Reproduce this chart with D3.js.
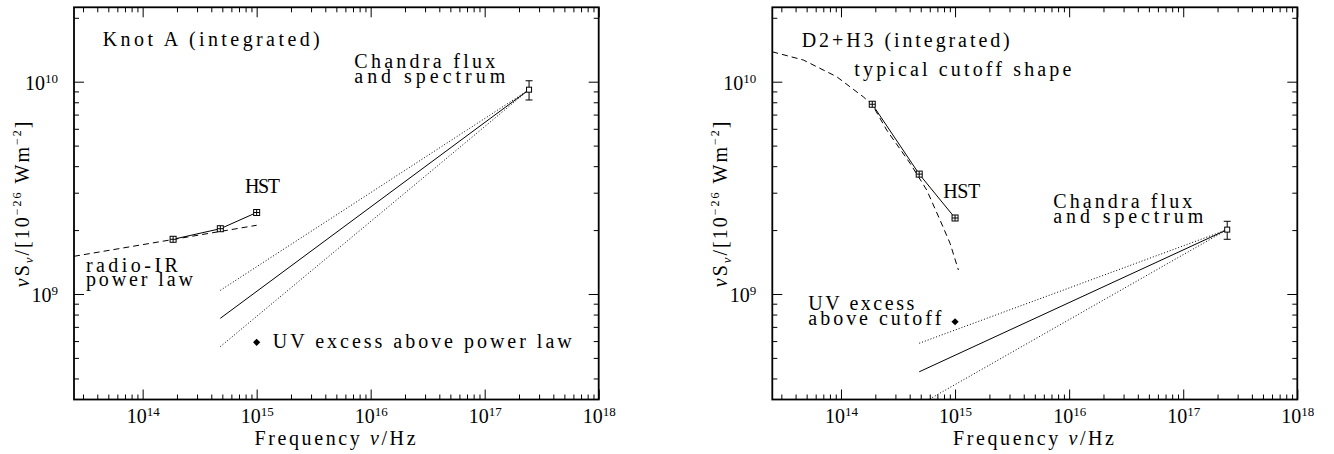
<!DOCTYPE html>
<html><head><meta charset="utf-8">
<script src="https://cdn.jsdelivr.net/npm/d3@7"></script>
<style>
body{margin:0;background:#fff;}
svg{display:block;font-family:"Liberation Serif","Times New Roman",serif;}
</style></head><body>
<svg id="chart" width="1334" height="454"></svg>
<script>
// ---------------- shared axis data ----------------
const xDomain = [2.5e13, 1e18];
const yDomain = [3.184e8, 2.241e10];
const xMajorExponents = [14, 15, 16, 17, 18];
const yMajorExponents = [9, 10];
const minorMultipliers = [2, 3, 4, 5, 6, 7, 8, 9];
const xLabelText = "Frequency ";
const yLabelParts = ["ν", "S", "ν", "/[10", "−26", " Wm", "−2", "]"];

// ---------------- Knot A (left panel) ----------------
const knotA_hstFreq = [1.85e14, 4.8e14, 1.0e15];
const knotA_hstFlux = [1.81e9, 2.03e9, 2.42e9];
const knotA_curveFreq = [2.5e13, 1.0e15];          // radio-IR power law
const knotA_curveFlux = [1.505e9, 2.107e9];
const knotA_chandraFreq = [2.45e17];
const knotA_chandraFlux = [9.17e9];
const knotA_chandraLow = [8.2e9];
const knotA_chandraHigh = [1.01e10];
const knotA_specFreq = [4.8e14, 2.45e17];
const knotA_specBest = [7.68e8, 9.17e9];
const knotA_specUpper = [1.04e9, 9.17e9];
const knotA_specLower = [5.65e8, 9.17e9];
const knotA_uvFreq = [1.0e15];
const knotA_uvFlux = [5.92e8];
const knotA_labels = [["Knot A (integrated)"], ["HST"], ["radio-IR", "power law"], ["Chandra flux", "and spectrum"], ["UV excess above power law"]];
const knotA_labelFreq = [4.47e13, 7.91e14, 3.18e13, 7.18e15, 1.383e15];
const knotA_labelFlux = [1.472e10, 3.0e9, 1.274e9, 1.156e10, 5.57e8];
const knotA_labelWidth = [[217], [35], [92, 107], [141, 151], [299]];

// ---------------- D2+H3 (right panel) ----------------
const d2h3_hstFreq = [1.88e14, 4.85e14, 1.0e15];
const d2h3_hstFlux = [7.83e9, 3.67e9, 2.28e9];
const d2h3_curveFreq = [2.5e13, 4.68e13, 9.16e13, 1.567e14, 1.88e14, 2.515e14, 4.03e14, 5.64e14, 7.38e14, 9.04e14, 1.07e15];   // typical cutoff shape
const d2h3_curveFlux = [1.383e10, 1.265e10, 1.056e10, 8.49e9, 7.8e9, 5.92e9, 4.13e9, 3.09e9, 2.232e9, 1.733e9, 1.297e9];
const d2h3_chandraFreq = [2.43e17];
const d2h3_chandraFlux = [2.01e9];
const d2h3_chandraLow = [1.81e9];
const d2h3_chandraHigh = [2.2e9];
const d2h3_specFreq = [4.85e14, 2.43e17];
const d2h3_specBest = [4.3e8, 2.01e9];
const d2h3_specUpper = [5.86e8, 2.01e9];
const d2h3_specLower = [3.0e8, 2.01e9];
const d2h3_uvFreq = [1.0e15];
const d2h3_uvFlux = [7.4e8];
const d2h3_labels = [["D2+H3 (integrated)"], ["typical cutoff shape"], ["HST"], ["UV excess", "above cutoff"], ["Chandra flux", "and spectrum"]];
const d2h3_labelFreq = [4.53e13, 1.309e14, 7.89e14, 5.17e13, 7.26e15];
const d2h3_labelFlux = [1.457e10, 1.064e10, 2.825e9, 8.41e8, 2.532e9];
const d2h3_labelWidth = [[208], [217], [37], [106, 133], [139, 150]];

// ---------------- layout ----------------
const panels = [
  { id: "A", left: 74, right: 598.7, top: 7.3, bottom: 399.5,
    hstFreq: knotA_hstFreq, hstFlux: knotA_hstFlux, curveFreq: knotA_curveFreq, curveFlux: knotA_curveFlux,
    chFreq: knotA_chandraFreq, chFlux: knotA_chandraFlux, chLow: knotA_chandraLow, chHigh: knotA_chandraHigh,
    specFreq: knotA_specFreq, specBest: knotA_specBest, specUpper: knotA_specUpper, specLower: knotA_specLower,
    uvFreq: knotA_uvFreq, uvFlux: knotA_uvFlux,
    labels: knotA_labels, labelFreq: knotA_labelFreq, labelFlux: knotA_labelFlux, labelWidth: knotA_labelWidth },
  { id: "B", left: 772.3, right: 1297.3, top: 7.3, bottom: 399.5,
    hstFreq: d2h3_hstFreq, hstFlux: d2h3_hstFlux, curveFreq: d2h3_curveFreq, curveFlux: d2h3_curveFlux,
    chFreq: d2h3_chandraFreq, chFlux: d2h3_chandraFlux, chLow: d2h3_chandraLow, chHigh: d2h3_chandraHigh,
    specFreq: d2h3_specFreq, specBest: d2h3_specBest, specUpper: d2h3_specUpper, specLower: d2h3_specLower,
    uvFreq: d2h3_uvFreq, uvFlux: d2h3_uvFlux,
    labels: d2h3_labels, labelFreq: d2h3_labelFreq, labelFlux: d2h3_labelFlux, labelWidth: d2h3_labelWidth }
];

const svg = d3.select("#chart");
const FONT = 20;
const LINE_GAP = 14.7;

function minorTicks(domain, exps) {
  const out = [];
  exps.forEach(e => minorMultipliers.forEach(m => {
    const v = m * Math.pow(10, e);
    if (v >= domain[0] && v <= domain[1]) out.push(v);
  }));
  return out;
}
const xMajor = xMajorExponents.map(e => Math.pow(10, e));
const yMajor = yMajorExponents.map(e => Math.pow(10, e));
const xMinor = minorTicks(xDomain, [13, 14, 15, 16, 17]);
const yMinor = minorTicks(yDomain, [8, 9, 10]);

function supLabel(sel, expOf) {
  sel.each(function(d) {
    const t = d3.select(this);
    t.text(null);
    t.append("tspan").text("10");
    t.append("tspan").attr("font-size", 13).attr("dy", -7).text(String(expOf(d)));
  });
}

panels.forEach(p => {
  const x = d3.scaleLog().domain(xDomain).range([p.left, p.right]);
  const y = d3.scaleLog().domain(yDomain).range([p.bottom, p.top]);
  const g = svg.append("g");
  const clipId = "clip" + p.id;
  svg.append("clipPath").attr("id", clipId).append("rect")
    .attr("x", p.left).attr("y", p.top).attr("width", p.right - p.left).attr("height", p.bottom - p.top);

  // axes (ticks inward on four sides)
  const mk = (axisFn, scale, vals, size, transform) => {
    const a = g.append("g").attr("transform", transform)
      .call(axisFn(scale).tickValues(vals).tickSize(-size).tickFormat(""));
    a.select(".domain").remove();
    a.selectAll("line").attr("stroke", "#000").attr("stroke-width", 1);
    return a;
  };
  [[d3.axisBottom, `translate(0,${p.bottom})`], [d3.axisTop, `translate(0,${p.top})`]].forEach(([f, tr]) => {
    mk(f, x, xMajor, 10, tr); mk(f, x, xMinor, 5, tr);
  });
  [[d3.axisLeft, `translate(${p.left},0)`], [d3.axisRight, `translate(${p.right},0)`]].forEach(([f, tr]) => {
    mk(f, y, yMajor, 10, tr); mk(f, y, yMinor, 5, tr);
  });

  // tick labels
  const xl = g.append("g").attr("transform", `translate(0,${p.bottom})`)
    .call(d3.axisBottom(x).tickValues(xMajor).tickSize(0).tickFormat(d => d));
  xl.select(".domain").remove();
  xl.selectAll("text").attr("y", 23).attr("dy", 0).attr("font-size", 20).attr("fill", "#000")
    .attr("font-family", "Liberation Serif").call(supLabel, d => Math.round(Math.log10(d)));
  const yl = g.append("g").attr("transform", `translate(${p.left},0)`)
    .call(d3.axisLeft(y).tickValues(yMajor).tickSize(0).tickFormat(d => d));
  yl.select(".domain").remove();
  yl.selectAll("text").attr("x", -16).attr("dy", 8).attr("font-size", 20).attr("fill", "#000")
    .attr("font-family", "Liberation Serif").call(supLabel, d => Math.round(Math.log10(d)));

  // frame
  g.append("rect").attr("x", p.left).attr("y", p.top).attr("width", p.right - p.left).attr("height", p.bottom - p.top)
    .attr("fill", "none").attr("stroke", "#000").attr("stroke-width", 1.8);

  // axis titles
  const xt = g.append("text").attr("x", (p.left + p.right) / 2).attr("y", 445).attr("text-anchor", "middle")
    .attr("font-size", FONT).attr("letter-spacing", 2.6);
  xt.append("tspan").text(xLabelText);
  xt.append("tspan").attr("font-style", "italic").text("ν");
  xt.append("tspan").text("/Hz");

  const yt = g.append("text").attr("transform", `translate(${p.left - 45},${(p.top + p.bottom) / 2}) rotate(-90)`)
    .attr("text-anchor", "middle").attr("font-size", FONT).attr("letter-spacing", 2);
  yt.append("tspan").attr("font-style", "italic").text(yLabelParts[0]);
  yt.append("tspan").text(yLabelParts[1]);
  yt.append("tspan").attr("font-style", "italic").attr("font-size", 13).attr("dy", 4).text(yLabelParts[2]);
  yt.append("tspan").attr("dy", -4).text(yLabelParts[3]);
  yt.append("tspan").attr("font-size", 12).attr("dy", -8).text(yLabelParts[4]);
  yt.append("tspan").attr("dy", 8).text(yLabelParts[5]);
  yt.append("tspan").attr("font-size", 12).attr("dy", -8).text(yLabelParts[6]);
  yt.append("tspan").attr("dy", 8).text(yLabelParts[7]);

  // data
  const plot = g.append("g").attr("clip-path", `url(#${clipId})`);
  const line = d3.line().x(d => x(d[0])).y(d => y(d[1]));
  const zip = (a, b) => a.map((v, i) => [v, b[i]]);

  plot.append("path").attr("d", line(zip(p.curveFreq, p.curveFlux)))
    .attr("fill", "none").attr("stroke", "#000").attr("stroke-width", 1).attr("stroke-dasharray", "6,4");
  plot.append("path").attr("d", line(zip(p.specFreq, p.specBest)))
    .attr("fill", "none").attr("stroke", "#000").attr("stroke-width", 1);
  [p.specUpper, p.specLower].forEach(arr => {
    plot.append("path").attr("d", line(zip(p.specFreq, arr)))
      .attr("fill", "none").attr("stroke", "#000").attr("stroke-width", 1).attr("stroke-dasharray", "1,2");
  });
  plot.append("path").attr("d", line(zip(p.hstFreq, p.hstFlux)))
    .attr("fill", "none").attr("stroke", "#000").attr("stroke-width", 1);

  // HST markers
  const hs = 6;
  const hst = plot.selectAll(".hst").data(zip(p.hstFreq, p.hstFlux)).join("g")
    .attr("transform", d => `translate(${x(d[0])},${y(d[1])})`);
  hst.append("rect").attr("x", -hs / 2).attr("y", -hs / 2).attr("width", hs).attr("height", hs)
    .attr("fill", "#fff").attr("stroke", "#000").attr("stroke-width", 1);
  hst.append("line").attr("x1", -hs / 2).attr("x2", hs / 2).attr("stroke", "#000");
  hst.append("line").attr("y1", -hs / 2).attr("y2", hs / 2).attr("stroke", "#000");

  // Chandra marker + error bar
  const ch = p.chFreq.map((f, i) => ({ f, v: p.chFlux[i], lo: p.chLow[i], hi: p.chHigh[i] }));
  const cg = plot.selectAll(".ch").data(ch).join("g");
  cg.append("line").attr("x1", d => x(d.f)).attr("x2", d => x(d.f)).attr("y1", d => y(d.lo)).attr("y2", d => y(d.hi)).attr("stroke", "#000");
  [d => d.lo, d => d.hi].forEach(acc => {
    cg.append("line").attr("x1", d => x(d.f) - 3.5).attr("x2", d => x(d.f) + 3.5)
      .attr("y1", d => y(acc(d))).attr("y2", d => y(acc(d))).attr("stroke", "#000");
  });
  cg.append("rect").attr("x", d => x(d.f) - 2.5).attr("y", d => y(d.v) - 2.5).attr("width", 5).attr("height", 5)
    .attr("fill", "#fff").attr("stroke", "#000");

  // UV excess diamond
  plot.selectAll(".uv").data(zip(p.uvFreq, p.uvFlux)).join("path")
    .attr("d", d3.symbol(d3.symbolSquare, 26)())
    .attr("transform", d => `translate(${x(d[0])},${y(d[1])}) rotate(45)`).attr("fill", "#000");

  // annotations (multi-line labels share one text element)
  const ann = g.selectAll(".ann").data(p.labels.map((lines, i) => ({ lines, f: p.labelFreq[i], v: p.labelFlux[i], w: p.labelWidth[i] })))
    .join("text").attr("x", d => x(d.f)).attr("y", d => y(d.v)).attr("font-size", FONT);
  ann.each(function(d) {
    const t = d3.select(this);
    d.lines.forEach((ln, j) => {
      const ts = t.append("tspan").attr("x", x(d.f)).attr("dy", j === 0 ? 0 : LINE_GAP).text(ln);
      const natural = ts.node().getComputedTextLength();
      const n = ln.length;
      ts.attr("letter-spacing", ((d.w[j] - natural) / (n - 1)).toFixed(3));
    });
  });
});
</script>
</body></html>
